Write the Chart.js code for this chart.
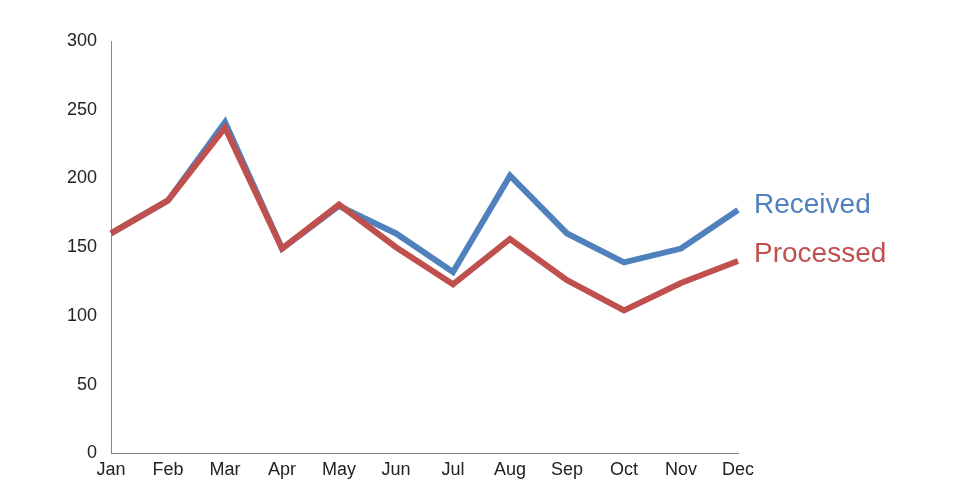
<!DOCTYPE html>
<html>
<head>
<meta charset="utf-8">
<script src="https://cdn.jsdelivr.net/npm/chart.js@4"></script>
<style>
  html, body { margin: 0; padding: 0; background: #fff; }
  #wrap { width: 961px; height: 497px; }
</style>
</head>
<body>
<div id="wrap"><canvas id="chart"></canvas></div>
<script>
// ── Data ─────────────────────────────────────────────────────────────────────
const months = ["Jan","Feb","Mar","Apr","May","Jun","Jul","Aug","Sep","Oct","Nov","Dec"];
const received  = [160, 184, 241, 149, 180, 160, 132, 202, 160, 139, 149, 177];
const processed = [160, 184, 237, 149, 181, 150, 123, 156, 126, 104, 124, 140];

const BLUE = "#4f81bd";
const RED  = "#c0504d";

// draws series name to the right of the last point
const endLabels = {
  id: "endLabels",
  afterDatasetsDraw(chart) {
    const ctx = chart.ctx;
    ctx.save();
    ctx.font = "28px 'Liberation Sans', Arial, sans-serif";
    ctx.textBaseline = "middle";
    chart.data.datasets.forEach((ds, i) => {
      const pts = chart.getDatasetMeta(i).data;
      const p = pts[pts.length - 1];
      ctx.fillStyle = ds.borderColor;
      ctx.fillText(ds.label, p.x + 16, p.y + (i === 0 ? -5 : -7));
    });
    ctx.restore();
  }
};

new Chart(document.getElementById("chart"), {
  type: "line",
  data: {
    labels: months,
    datasets: [
      { label: "Received", data: received, borderColor: BLUE, borderWidth: 6, pointRadius: 0, tension: 0, order: 1 },
      { label: "Processed", data: processed, borderColor: RED, borderWidth: 6, pointRadius: 0, tension: 0, order: 0 }
    ]
  },
  options: {
    responsive: true,
    maintainAspectRatio: false,
    animation: false,
    layout: { padding: { top: 41, right: 223, bottom: 10, left: 59 } },
    plugins: { legend: { display: false }, tooltip: { enabled: false } },
    scales: {
      x: {
        offset: false,
        grid: { display: false, drawTicks: false },
        border: { color: "#888", width: 1 },
        ticks: { color: "#222", padding: 6, font: { size: 18, family: "'Liberation Sans', Arial, sans-serif" }, maxRotation: 0 }
      },
      y: {
        min: 0, max: 300,
        grid: { display: false, drawOnChartArea: false, drawTicks: true, tickLength: 6, color: "#888" },
        border: { color: "#888", width: 1 },
        ticks: { stepSize: 50, color: "#222", padding: 8, font: { size: 18, family: "'Liberation Sans', Arial, sans-serif" } }
      }
    }
  },
  plugins: [endLabels]
});
</script>
</body>
</html>
